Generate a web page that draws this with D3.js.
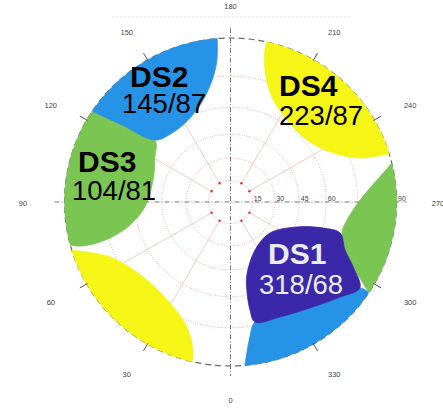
<!DOCTYPE html>
<html>
<head>
<meta charset="utf-8">
<script src="https://cdn.jsdelivr.net/npm/d3@7"></script>
<style>
  html, body { margin: 0; padding: 0; background: #fff; }
  svg { display: block; }
</style>
</head>
<body>
<svg id="chart" width="443" height="410"></svg>
<script>
// ---- stereonet grid ----
const azimuthLabels = [0, 30, 60, 90, 120, 150, 180, 210, 240, 270, 300, 330];
const spokeAzimuths = [30, 60, 120, 150, 210, 240, 300, 330];
const dipRings = [15, 30, 45, 60, 75];
const ringLabels = [15, 30, 45, 60, 90];

// ---- discontinuity sets ----
const setNames = ["DS1", "DS2", "DS3", "DS4"];
const setOrientations = ["318/68", "145/87", "104/81", "223/87"];

// zone outlines as [azimuth, dip] vertices; each rim is an arc of the primitive
// circle and its edge runs from the rim's end back to its start
const zoneDS2Rim = [123.6, 175.4];
const zoneDS2Edge = [[174.6, 82.0], [171.5, 73.8], [164.3, 64.8], [152.9, 58.6], [140.1, 57.5], [129.7, 61.2], [125.7, 77.6]];
const zoneDS3Rim = [74.7, 123.6];
const zoneDS3Edge = [[125.7, 77.6], [129.7, 61.2], [121.1, 56.0], [106.0, 51.8], [86.7, 54.6], [76.2, 64.9], [72.9, 76.7], [73.3, 86.1]];
const zoneDS3bRim = [256.3, 303.5];
const zoneDS3bEdge = [[298.2, 80.0], [293.0, 73.7], [285.2, 69.7], [278.9, 70.8], [269.1, 76.0], [261.4, 83.5]];
const zoneDS4Rim = [192.6, 252.9];
const zoneDS4Edge = [[251.0, 79.0], [244.1, 68.9], [230.6, 61.6], [214.2, 62.4], [201.3, 69.0], [194.5, 79.4], [192.6, 87.0]];
const zoneDS4bRim = [13.2, 72.9];
const zoneDS4bEdge = [[65.2, 77.3], [49.1, 69.8], [30.6, 71.2], [19.0, 77.8], [14.1, 85.9]];
const zoneDS2bRim = [303.5, 355.0];
const zoneDS2bEdge = [[353.9, 85.6], [351.9, 79.4], [348.6, 73.5], [337.0, 74.6], [322.2, 78.0], [311.3, 82.6], [303.9, 86.4]];
const zoneDS1 = [[286.0, 69.0], [285.9, 60.2], [290.8, 46.4], [308.5, 33.8], [333.2, 36.3], [347.5, 49.0], [349.6, 57.2],
                 [349.9, 67.6], [348.6, 73.5], [337.0, 74.6], [322.2, 78.0], [311.3, 82.6], [303.9, 86.4], [298.2, 80.0], [293.0, 73.7]];

const colors = { blue: "#2693e6", green: "#7bc553", yellow: "#f5f516", navy: "#3a28a8" };
const FONT = "'Liberation Sans', Arial, Helvetica, sans-serif";

// ---- geometry ----
const cx = 230.5, cy = 202, R = 166, squash = 164 / 166;
const rUnit = d3.scaleLinear().domain([0, 1]).range([0, R]);
const rad = dip => rUnit(Math.tan(dip * Math.PI / 360));      // equal-angle projection
const ang = az => (az + 180) * Math.PI / 180;                   // 0 at bottom, clockwise
const pt = (az, r) => { const a = ang(az); return [r * Math.sin(a), -r * Math.cos(a)]; };

const svg = d3.select("#chart");

// faint rule above the net
svg.append("line").attr("x1", 112).attr("x2", 350).attr("y1", 17).attr("y2", 17)
  .attr("stroke", "#e4e4e4").attr("stroke-width", 1).attr("stroke-dasharray", "2,2");

const net = svg.append("g").attr("transform", `translate(${cx},${cy}) scale(1,${squash})`);

// dip rings
net.selectAll("circle.ring").data(dipRings).join("circle")
  .attr("class", "ring").attr("r", d => rad(d))
  .attr("fill", "none").attr("stroke", "#e47a7a").attr("stroke-width", 0.8)
  .attr("stroke-dasharray", "1,1.5").attr("opacity", 0.75);

// azimuth spokes
net.selectAll("line.spoke").data(spokeAzimuths).join("line")
  .attr("class", "spoke")
  .attr("x1", d => pt(d, rad(15))[0]).attr("y1", d => pt(d, rad(15))[1])
  .attr("x2", d => pt(d, R)[0]).attr("y2", d => pt(d, R)[1])
  .attr("stroke", "#e47a7a").attr("stroke-width", 0.7).attr("opacity", 0.55);

net.selectAll("circle.node").data(spokeAzimuths).join("circle")
  .attr("class", "node").attr("r", 1.2)
  .attr("cx", d => pt(d, rad(15))[0]).attr("cy", d => pt(d, rad(15))[1])
  .attr("fill", "#d33");

// N-S / E-W axes
[[0, -R - 10, 0, R + 10], [-R - 10, 0, R + 10, 0]].forEach(([x1, y1, x2, y2]) => {
  net.append("line").attr("x1", x1).attr("y1", y1).attr("x2", x2).attr("y2", y2)
    .attr("stroke", "#6a6a6a").attr("stroke-width", 0.9).attr("stroke-dasharray", "5,2,1,2");
});

// primitive circle
net.append("circle").attr("r", R).attr("fill", "none")
  .attr("stroke", "#666").attr("stroke-width", 1.2).attr("stroke-dasharray", "6,4");

// ring labels along the east axis
svg.append("g").selectAll("text").data(ringLabels).join("text")
  .attr("x", d => cx + rad(d) + 1.5).attr("y", cy - 1.5)
  .attr("font-family", FONT).attr("font-size", 7).attr("fill", "#444")
  .text(d => d);

// ---- zones ----
const edgeLine = d3.lineRadial().angle(d => ang(d[0])).radius(d => rad(d[1]))
  .curve(d3.curveCatmullRom.alpha(0.5));
const loopLine = d3.lineRadial().angle(d => ang(d[0])).radius(d => rad(d[1]))
  .curve(d3.curveCatmullRomClosed.alpha(0.5));

function rimZone(rim, edge) {
  const [x0, y0] = pt(rim[0], R), [x1, y1] = pt(rim[1], R);
  const large = (rim[1] - rim[0]) > 180 ? 1 : 0;
  const back = edgeLine([[rim[1], 90], ...edge, [rim[0], 90]]).replace(/^M/, "L");
  return `M${x0},${y0}A${R},${R} 0 ${large} 1 ${x1},${y1}${back}Z`;
}

const zones = [
  { d: rimZone(zoneDS2bRim, zoneDS2bEdge), c: colors.blue },
  { d: rimZone(zoneDS3bRim, zoneDS3bEdge), c: colors.green },
  { d: loopLine(zoneDS1), c: colors.navy },
  { d: rimZone(zoneDS3Rim, zoneDS3Edge), c: colors.green },
  { d: rimZone(zoneDS2Rim, zoneDS2Edge), c: colors.blue },
  { d: rimZone(zoneDS4Rim, zoneDS4Edge), c: colors.yellow },
  { d: rimZone(zoneDS4bRim, zoneDS4bEdge), c: colors.yellow }
];
net.selectAll("path.zone").data(zones).join("path")
  .attr("class", "zone").attr("d", d => d.d)
  .attr("fill", d => d.c).attr("stroke", d => d.c).attr("stroke-width", 0.8)
  .attr("stroke-linejoin", "round");

// rim ticks
net.selectAll("line.tick").data(spokeAzimuths).join("line")
  .attr("class", "tick")
  .attr("x1", d => pt(d, R - 1)[0]).attr("y1", d => pt(d, R - 1)[1])
  .attr("x2", d => pt(d, R + 8)[0]).attr("y2", d => pt(d, R + 8)[1])
  .attr("stroke", "#555").attr("stroke-width", 1);

// azimuth labels
svg.append("g").selectAll("text").data(azimuthLabels).join("text")
  .attr("x", d => cx - Math.sin(d * Math.PI / 180) * 207.5)
  .attr("y", d => cy + Math.cos(d * Math.PI / 180) * 197 + 1.5)
  .attr("text-anchor", "middle").attr("dominant-baseline", "central")
  .attr("font-family", FONT).attr("font-size", 7.5).attr("fill", "#444")
  .text(d => d);

// set labels: [name x, name y, orientation x, orientation y, colour]
const labelLayout = [
  [268, 264, 259, 294, "#ebebf2"],
  [130, 87, 122, 113, "#000"],
  [78, 172, 72, 200, "#000"],
  [279, 96, 279, 125, "#000"]
];
const labels = svg.append("g");
setNames.forEach((name, i) => {
  const [nx, ny, ox, oy, col] = labelLayout[i];
  labels.append("text").attr("x", nx).attr("y", ny)
    .attr("font-family", FONT).attr("font-size", 30).attr("font-weight", "bold")
    .attr("fill", col).text(name);
  labels.append("text").attr("x", ox).attr("y", oy)
    .attr("font-family", FONT).attr("font-size", 27.5)
    .attr("fill", col).text(setOrientations[i]);
});
</script>
</body>
</html>
